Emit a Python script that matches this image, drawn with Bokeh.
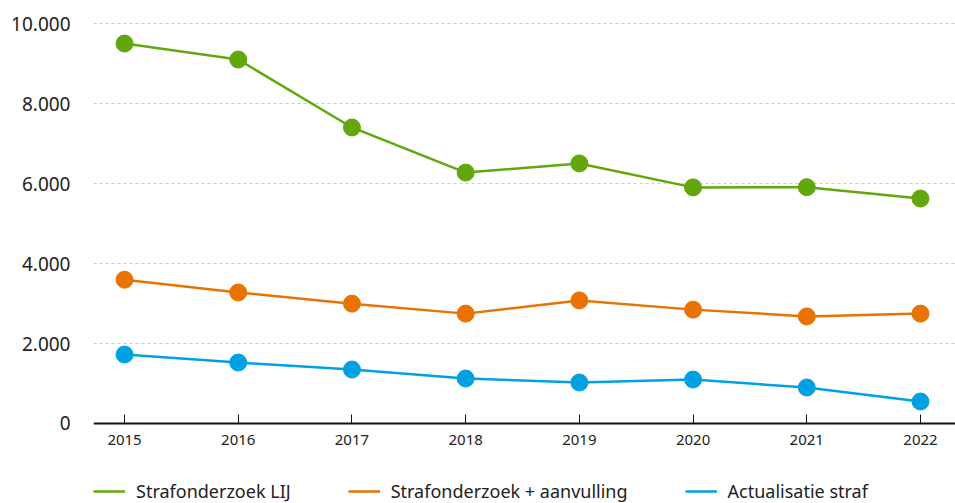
from bokeh.plotting import figure
from bokeh.models import (FixedTicker, CustomJSTickFormatter, Legend, LegendItem,
                          Range1d, LinearAxis)
from bokeh.embed import file_html
from bokeh.resources import INLINE

years = [2015, 2016, 2017, 2018, 2019, 2020, 2021, 2022]
strafonderzoek_lij = [9510, 9110, 7410, 6280, 6510, 5910, 5915, 5630]
strafonderzoek_aanvulling = [3600, 3280, 3000, 2750, 3080, 2850, 2680, 2750]
actualisatie_straf = [1725, 1525, 1350, 1125, 1025, 1100, 900, 550]
series_names = ["Strafonderzoek LIJ", "Strafonderzoek + aanvulling", "Actualisatie straf"]
colors = ["#62a70c", "#e97300", "#00a1e3"]
y_ticks = [0, 2000, 4000, 6000, 8000, 10000]

FONT = "Noto Sans"

p = figure(width=955, height=503, output_backend="svg", toolbar_location=None,
           x_axis_location=None,
           x_range=Range1d(2014.727, 2022.308), y_range=Range1d(-2003, 10588),
           min_border_left=93, min_border_right=0, min_border_top=0, min_border_bottom=0)
p.outline_line_color = None
p.background_fill_color = "white"

items = []
for vals, name, c in zip([strafonderzoek_lij, strafonderzoek_aanvulling, actualisatie_straf], series_names, colors):
    l = p.line(years, vals, line_color=c, line_width=2.5)
    s = p.scatter(years, vals, size=17, fill_color=c, line_color=c)
    items.append(LegendItem(label=name, renderers=[l]))

# y axis
p.yaxis.ticker = FixedTicker(ticks=y_ticks)
p.yaxis.formatter = CustomJSTickFormatter(code="return tick.toFixed(0).replace(/\\B(?=(\\d{3})+(?!\\d))/g, '.');")
p.yaxis.axis_line_color = None
p.yaxis.major_tick_line_color = None
p.yaxis.minor_tick_line_color = None
p.yaxis.major_label_standoff = 17
p.yaxis.major_label_text_font = FONT
p.yaxis.major_label_text_font_size = "19px"
p.yaxis.major_label_text_color = "#222222"

# x axis at y = 0
xaxis = LinearAxis(fixed_location=0, ticker=FixedTicker(ticks=years))
xaxis.axis_line_color = "#111111"
xaxis.axis_line_width = 2
xaxis.major_tick_in = 9
xaxis.major_tick_out = 0
xaxis.major_tick_line_color = "#111111"
xaxis.major_tick_line_width = 1
xaxis.minor_tick_line_color = None
xaxis.major_label_standoff = 12
xaxis.major_label_text_font = FONT
xaxis.major_label_text_font_size = "15px"
xaxis.major_label_text_color = "#222222"
p.add_layout(xaxis, "below")

p.xgrid.grid_line_color = None
p.ygrid.ticker = FixedTicker(ticks=y_ticks[1:])
p.ygrid.grid_line_color = "#cccccc"
p.ygrid.grid_line_dash = "3 3"
p.ygrid.grid_line_width = 1

legend = Legend(items=items, orientation="horizontal", location=(0, 0),
                label_text_font=FONT, label_text_font_size="18px", label_text_color="#222222",
                glyph_width=32, glyph_height=16, label_standoff=11, spacing=57,
                padding=0, margin=0, border_line_color=None, background_fill_alpha=0)
p.add_layout(legend, "center")

open("out.html", "w").write(file_html(p, INLINE))
